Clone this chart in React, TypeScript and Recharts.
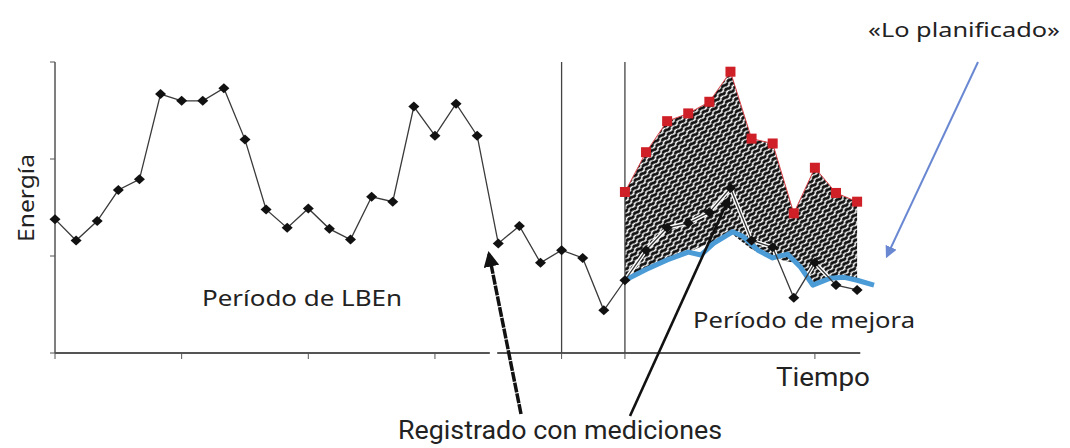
import { ComposedChart, Line, Area, XAxis, YAxis, ReferenceLine } from 'recharts'

// time index 0..38 (one step per measurement)
const MEASURED = [
  1.38, 1.16, 1.36, 1.68, 1.79, 2.67, 2.6, 2.6, 2.73, 2.2,
  1.48, 1.29, 1.49, 1.28, 1.17, 1.61, 1.56, 2.54, 2.24, 2.57,
  2.24, 1.13, 1.31, 0.93, 1.06, 0.98, 0.44, 0.75, 1.06, 1.29,
  1.34, 1.45, 1.7, 1.16, 1.09, 0.57, 0.93, 0.7, 0.65,
]
const IMPROVE_START = 27
const PLANNED = [1.66, 2.07, 2.39, 2.47, 2.59, 2.9, 2.21, 2.16, 1.44, 1.91, 1.65, 1.56]
const BAND_FLOOR = [0.75, 0.86, 0.96, 1.04, 1.13, 1.24, 1.07, 0.98, 0.93, 0.72, 0.77, 0.75]
const TARGET_T = [27, 28, 29, 30, 30.6, 31.2, 32.1, 32.6, 33.3, 34, 34.7, 35.3, 35.9, 36.7, 37.4, 38, 38.8]
const TARGET_V = [0.75, 0.86, 0.96, 1.04, 1.01, 1.13, 1.25, 1.2, 1.06, 0.98, 1.02, 0.89, 0.7, 0.77, 0.78, 0.75, 0.7]
const X_TICKS = [0, 6, 12, 18, 24, 27, 36]
const Y_TICKS = [0, 1, 2, 3]

const rows = MEASURED.map((v, t) => {
  const j = t - IMPROVE_START
  return {
    t,
    measured: v,
    halo: j >= 0 ? v : null,
    planned: j >= 0 ? PLANNED[j] : null,
    band: j >= 0 ? [BAND_FLOOR[j], PLANNED[j]] : null,
  }
})
const targetRows = TARGET_T.map((t, i) => ({ t, target: TARGET_V[i] }))

const AXIS = '#555'
const INK = '#222'
const SANS = '"Noto Sans", "Open Sans", sans-serif'
const NARROW = 'Roboto, "Liberation Sans Narrow", sans-serif'

const Diamond = (p: any) => {
  const { cx, cy, index } = p
  if (cx == null || cy == null) return <g key={index} />
  return <polygon key={index} points={`${cx},${cy - 5} ${cx + 5.5},${cy} ${cx},${cy + 5} ${cx - 5.5},${cy}`} fill="#111" />
}

const Square = (p: any) => {
  const { cx, cy, index } = p
  if (cx == null || cy == null) return <g key={index} />
  return <rect key={index} x={cx - 5} y={cy - 5} width={10} height={10} fill="#cf2027" />
}

export default function App() {
  return (
    <div style={{ position: 'absolute', left: 0, top: 0, width: 1070, height: 448, background: '#fff' }}>
      <ComposedChart width={1070} height={448} data={rows} margin={{ top: 62, right: 196, left: 45, bottom: 65 }}>
        <defs>
          <pattern id="wave" width="8" height="4.6" patternUnits="userSpaceOnUse" patternTransform="rotate(-45)">
            <rect width="8" height="4.6" fill="#fff" />
            <path d="M0 2.3 Q2 0.7 4 2.3 T8 2.3" stroke="#111" strokeWidth="2.7" fill="none" />
          </pattern>
        </defs>
        <XAxis
          dataKey="t"
          type="number"
          domain={[0, 38.8]}
          ticks={X_TICKS}
          tickFormatter={() => ''}
          axisLine={false}
          tickLine={{ stroke: AXIS }}
          tickSize={6}
          height={30}
        />
        <YAxis
          domain={[0, 3]}
          ticks={Y_TICKS}
          tickFormatter={() => ''}
          axisLine={{ stroke: AXIS, strokeWidth: 1.5 }}
          tickLine={{ stroke: AXIS }}
          tickSize={5}
          width={10}
        />
        <ReferenceLine segment={[{ x: 0, y: 0 }, { x: 20.6, y: 0 }]} stroke={AXIS} strokeWidth={2} ifOverflow="visible" />
        <ReferenceLine segment={[{ x: 20.95, y: 0 }, { x: 38.15, y: 0 }]} stroke={AXIS} strokeWidth={2} ifOverflow="visible" />
        <ReferenceLine x={24} stroke="#444" strokeWidth={1.3} />
        <ReferenceLine x={27} stroke="#444" strokeWidth={1.3} />
        <Area dataKey="band" type="linear" stroke="none" fill="url(#wave)" fillOpacity={1} isAnimationActive={false} />
        <Line dataKey="halo" type="linear" stroke="#fff" strokeWidth={4} dot={false} isAnimationActive={false} />
        <Line
          data={targetRows}
          dataKey="target"
          type="linear"
          stroke="#4b9bd6"
          strokeWidth={5}
          strokeLinejoin="round"
          dot={false}
          isAnimationActive={false}
        />
        <Line dataKey="measured" type="linear" stroke="#3a3a3a" strokeWidth={1.3} dot={Diamond} isAnimationActive={false} />
        <Line dataKey="planned" type="linear" stroke="#d9434a" strokeWidth={1} dot={Square} isAnimationActive={false} />
      </ComposedChart>

      <svg width={1070} height={448} style={{ position: 'absolute', left: 0, top: 0, pointerEvents: 'none' }}>
        <defs>
          <marker id="headBlack" viewBox="0 0 10 10" refX="8" refY="5" markerWidth="4.5" markerHeight="4.5" orient="auto">
            <path d="M0 0 L10 5 L0 10 z" fill="#111" />
          </marker>
          <marker id="headBlue" viewBox="0 0 10 10" refX="8" refY="5" markerWidth="6" markerHeight="6" orient="auto">
            <path d="M0 0 L10 5 L0 10 z" fill="#6a88d2" />
          </marker>
        </defs>
        <line x1={521} y1={414} x2={489} y2={254} stroke="#111" strokeWidth={3.5} strokeDasharray="10 1" markerEnd="url(#headBlack)" />
        <line x1={630} y1={416} x2={729} y2={198} stroke="#111" strokeWidth={2.6} markerEnd="url(#headBlack)" />
        <line x1={978} y1={62} x2={887} y2={256} stroke="#6a88d2" strokeWidth={2} markerEnd="url(#headBlue)" />

        <text x={25} y={198} transform="rotate(-90 25 198)" textAnchor="middle" dominantBaseline="central"
          fontFamily={SANS} fontSize={22} fill={INK} textLength={88} lengthAdjust="spacingAndGlyphs">
          Energía
        </text>
        <text x={302} y={306} textAnchor="middle" fontFamily={SANS} fontSize={21} fill={INK}
          textLength={200} lengthAdjust="spacingAndGlyphs">Período de LBEn</text>
        <text x={804} y={328} textAnchor="middle" fontFamily={SANS} fontSize={21} fill={INK}
          textLength={222} lengthAdjust="spacingAndGlyphs">Período de mejora</text>
        <text x={823} y={386} textAnchor="middle" fontFamily={NARROW} fontSize={25} fill={INK}
          textLength={94} lengthAdjust="spacingAndGlyphs">Tiempo</text>
        <text x={560} y={439} textAnchor="middle" fontFamily={NARROW} fontSize={25} fill={INK}
          textLength={324} lengthAdjust="spacingAndGlyphs">Registrado con mediciones</text>
        <text x={964} y={37} textAnchor="middle" fontFamily={SANS} fontSize={20} fill={INK}
          textLength={192} lengthAdjust="spacingAndGlyphs">«Lo planificado»</text>
      </svg>
    </div>
  )
}
